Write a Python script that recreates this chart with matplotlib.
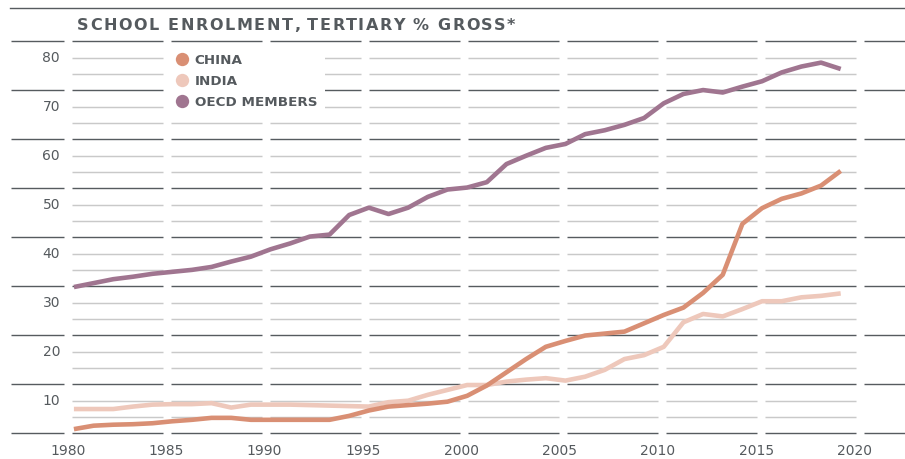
import matplotlib
matplotlib.use("Agg")
import matplotlib.pyplot as plt
from matplotlib.lines import Line2D
from matplotlib.font_manager import FontProperties

# ---------------- data ----------------
years = list(range(1980, 2020))
china = [4.2, 4.9, 5.1, 5.2, 5.4, 5.8, 6.1, 6.5, 6.5, 6.1,
         6.1, 6.1, 6.1, 6.1, 6.9, 8.0, 8.8, 9.1, 9.4, 9.8,
         11.0, 13.1, 15.8, 18.5, 21.0, 22.2, 23.3, 23.7, 24.1, 25.8,
         27.5, 29.0, 32.0, 35.7, 46.1, 49.3, 51.2, 52.3, 53.9, 56.9]
india = [8.3, 8.3, 8.3, 8.8, 9.2, 9.3, 9.3, 9.5, 8.6, 9.2,
         9.2, 9.2, 9.1, 9.0, 8.9, 8.8, 9.7, 10.0, 11.2, 12.2,
         13.2, 13.2, 13.9, 14.3, 14.6, 14.1, 14.9, 16.3, 18.5, 19.3,
         21.0, 26.0, 27.7, 27.2, 28.7, 30.3, 30.3, 31.1, 31.4, 31.9]
oecd = [33.2, 34.0, 34.8, 35.3, 35.9, 36.3, 36.7, 37.3, 38.4, 39.4,
        40.9, 42.1, 43.5, 43.9, 47.9, 49.4, 48.1, 49.4, 51.6, 53.1,
        53.5, 54.6, 58.3, 60.0, 61.6, 62.4, 64.4, 65.2, 66.3, 67.7,
        70.7, 72.6, 73.4, 72.9, 74.1, 75.2, 77.0, 78.2, 79.0, 77.7]
series_names = ["CHINA", "INDIA", "OECD MEMBERS"]
x_tick_years = list(range(1980, 2021, 5))
y_ticks = [10, 20, 30, 40, 50, 60, 70, 80]
title = "SCHOOL ENROLMENT, TERTIARY % GROSS*"

# ---------------- style ----------------
W, H, DPI = 905, 459, 100
C_CHINA = "#D98F74"
C_INDIA = "#EEC8BB"
C_OECD = "#A07590"
DARK = "#565b5f"
LIGHT = "#c9c9c9"
TXT = "#555a5e"

fig = plt.figure(figsize=(W / DPI, H / DPI), dpi=DPI)
fig.patch.set_facecolor("white")
ax = fig.add_axes([0, 19 / H, 1, 440 / H])
ax.set_xlim(1976.24, 2022.27)
ax.set_ylim(1.98, 91.78)
for s in ax.spines.values():
    s.set_visible(False)

# grid: dark every 10 (offset), light in between, with gaps at the 5-year ticks
gap_c = [1979.71 + (t - 1980) * 1.0071 for t in x_tick_years]
half = 0.205
grid_step = 10 / 3
dark_levels = [grid_step + 10 * k for k in range(9)]
light_levels = [2 * grid_step + 10 * k for k in range(8)] + [10 * (k + 1) for k in range(8)]

dark_edges = [1976.78] + [v for g in gap_c for v in (g - half, g + half)] + [2022.27]
dark_segs = [(dark_edges[i], dark_edges[i + 1]) for i in range(0, len(dark_edges), 2)]
light_edges = [v for g in gap_c for v in (g - half, g + half)][1:-1]
light_segs = [(light_edges[i], light_edges[i + 1]) for i in range(0, len(light_edges), 2)]

for lv in light_levels:
    for a, b in light_segs:
        ax.hlines(lv, a, b, color=LIGHT, lw=1.05, zorder=1)
for lv in dark_levels:
    for a, b in dark_segs:
        ax.hlines(lv, a, b, color=DARK, lw=1.0, zorder=1.5)

# data lines
lw = 3.3
ax.plot(years, india, color=C_INDIA, lw=lw, solid_capstyle="butt", solid_joinstyle="round", zorder=3)
ax.plot(years, china, color=C_CHINA, lw=lw, solid_capstyle="butt", solid_joinstyle="round", zorder=4)
ax.plot(years, oecd, color=C_OECD, lw=lw, solid_capstyle="butt", solid_joinstyle="round", zorder=4)

# ticks
ax.set_yticks([v + 0.3 for v in y_ticks])
ax.set_yticklabels([str(v) for v in y_ticks])
ax.set_xticks([t - 0.305 for t in x_tick_years])
ax.set_xticklabels([str(t) for t in x_tick_years])
ax.tick_params(axis="y", length=0, pad=-43.2, labelsize=10, labelcolor=TXT)
ax.tick_params(axis="x", length=0, pad=3.2, labelsize=10, labelcolor=TXT)

# legend
handles = [Line2D([], [], ls="none", marker="o", markersize=9.6, markeredgewidth=0, color=c)
           for c in (C_CHINA, C_INDIA, C_OECD)]
leg = ax.legend(handles, series_names, loc="upper left",
                bbox_to_anchor=(167 / W, 1 - 46 / H), bbox_transform=fig.transFigure,
                frameon=True, fancybox=False, framealpha=1, facecolor="white", edgecolor="none",
                borderpad=0.6, borderaxespad=0, handlelength=1.0, handletextpad=0.45,
                labelspacing=0.58, prop=FontProperties(family="DejaVu Sans", weight="bold", size=9.7))
for t in leg.get_texts():
    t.set_color(TXT)
leg.set_zorder(5)

# top rule
fig.add_artist(Line2D([10 / W, 1], [1 - 7.5 / H, 1 - 7.5 / H], color=DARK, lw=1.0,
                      transform=fig.transFigure))

# letter-spaced title
renderer = fig.canvas.get_renderer()
tprop = FontProperties(family="DejaVu Sans", weight="bold", size=11.5)


def _w(txt):
    return renderer.get_text_width_height_descent(txt, tprop, ismath=False)[0]


spacing = 1.6
base = _w("l")
x0, yb = 77, 30
for i, ch in enumerate(title):
    if ch == " ":
        continue
    off = (_w(title[:i] + "l") - base) if i > 0 else 0
    fig.text((x0 + off + i * spacing) / W, 1 - yb / H, ch, fontproperties=tprop,
             color=TXT, ha="left", va="baseline")

fig.savefig("out.png", dpi=DPI, facecolor="white")
